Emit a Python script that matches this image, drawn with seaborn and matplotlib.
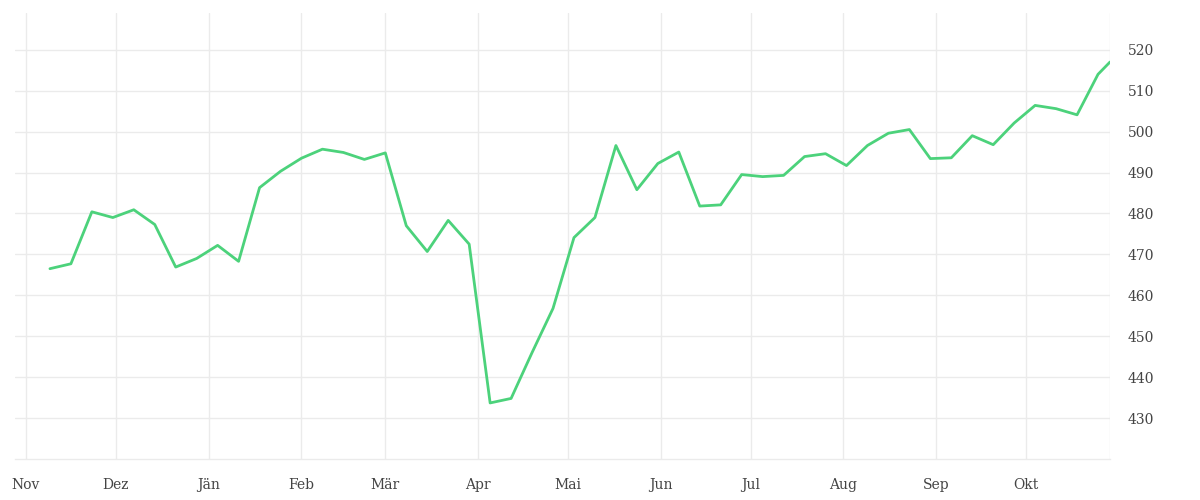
import matplotlib
matplotlib.use("Agg")
import matplotlib.pyplot as plt
import matplotlib.dates as mdates
import seaborn as sns
import pandas as pd
import numpy as np

# ---- data ----
start_date = "2022-11-09"
n_weekly = 51
last_date = "2023-10-29"
values = [
    466.5, 467.7, 480.4, 479.0, 480.9, 477.3, 466.9, 469.0, 472.2, 468.3,
    486.3, 490.3, 493.5, 495.7, 494.9, 493.2, 494.8, 477.0, 470.7, 478.3,
    472.5, 433.7, 434.8, 446.0, 456.8, 474.1, 479.0, 496.6, 485.8, 492.2,
    495.0, 481.8, 482.1, 489.5, 489.0, 489.3, 493.9, 494.6, 491.7, 496.6,
    499.6, 500.5, 493.4, 493.6, 499.0, 496.8, 502.1, 506.4, 505.6, 504.1,
    514.0, 517.0,
]
month_labels = ["Nov", "Dez", "Jän", "Feb", "Mär", "Apr", "Mai", "Jun",
                "Jul", "Aug", "Sep", "Okt"]
y_ticks = [430, 440, 450, 460, 470, 480, 490, 500, 510, 520]

dates = list(pd.date_range(start_date, periods=n_weekly, freq="7D")) + [pd.Timestamp(last_date)]
df = pd.DataFrame({"date": dates, "value": values})

# ---- style ----
sns.set_theme(style="white")
plt.rcParams["font.family"] = ["DejaVu Serif"]

grid_c = "#ebebeb"
fig = plt.figure(figsize=(12, 5), dpi=100)
ax = fig.add_axes([0.0125, 0.082, 0.9125, 0.893])

sns.lineplot(data=df, x="date", y="value", ax=ax, color="#4cd27b",
             linewidth=2.0, zorder=3)

ax.set_xlim(pd.Timestamp("2022-10-28 08:00"), pd.Timestamp("2023-10-29"))
ax.set_ylim(420, 529.1)

month_starts = pd.date_range("2022-11-01", periods=12, freq="MS")
xt = list(month_starts) + [pd.Timestamp("2023-10-29")]
ax.set_xticks(xt)
ax.set_xticklabels(month_labels + [""])
ax.set_yticks(y_ticks)
ax.yaxis.tick_right()

ax.grid(True, color=grid_c, linewidth=1)
ax.set_axisbelow(True)
for s in ["top", "left", "right"]:
    ax.spines[s].set_visible(False)
ax.spines["bottom"].set_color(grid_c)
ax.spines["bottom"].set_linewidth(1)

ax.tick_params(axis="x", length=7.5, width=1, color=grid_c, pad=6,
               labelsize=10, labelcolor="#444444")
ax.tick_params(axis="y", length=0, pad=13, labelsize=10, labelcolor="#444444")
ax.set_xlabel("")
ax.set_ylabel("")

fig.savefig("out.png", dpi=100)
